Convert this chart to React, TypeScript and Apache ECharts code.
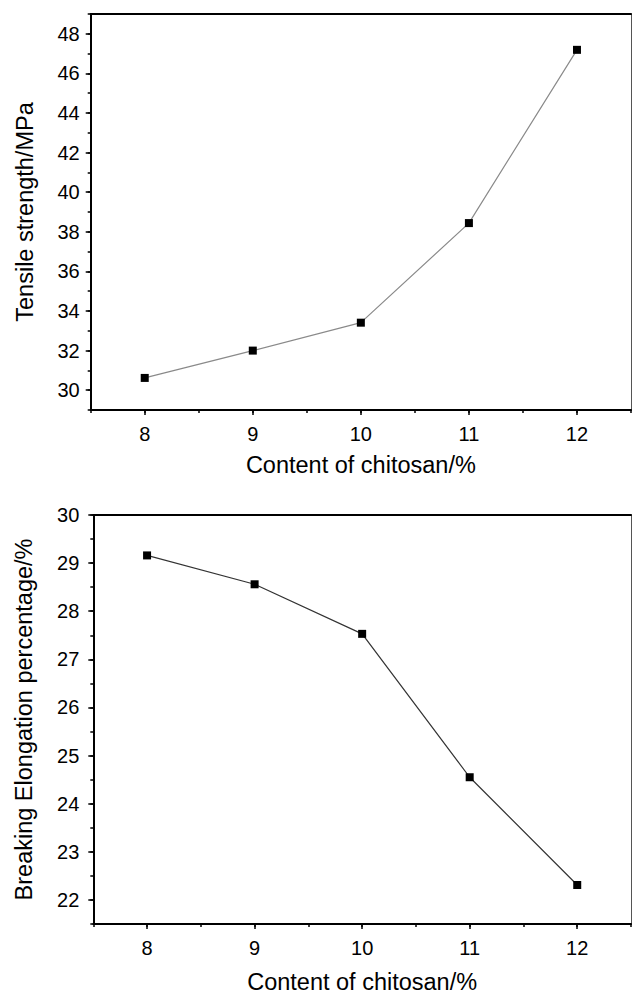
import React, { useEffect, useRef } from "react";
import * as echarts from "echarts";

// ---- data ----
const chitosanContent = [8, 9, 10, 11, 12];
const tensileStrength = [30.62, 32.0, 33.41, 38.44, 47.19];
const breakingElongation = [29.16, 28.56, 27.53, 24.55, 22.31];
const xMajorTicks = [8, 9, 10, 11, 12];
const tensileMajorTicks = [30, 32, 34, 36, 38, 40, 42, 44, 46, 48];
const elongationMajorTicks = [22, 23, 24, 25, 26, 27, 28, 29, 30];

const FONT = "Liberation Sans, Arial, Helvetica, sans-serif";

function App() {
  const ref = useRef<HTMLDivElement>(null);
  useEffect(() => {
    if (!ref.current) return;
    const chart = echarts.init(ref.current, null, { renderer: "svg" });

    const tickLabel = { fontSize: 20, color: "#000", fontFamily: FONT };
    const nameStyle = { fontSize: 23.5, color: "#000", fontFamily: FONT };
    const axisLineBold = { show: true, lineStyle: { color: "#000", width: 2 } };

    const mainX = (gridIndex: number, nameGap: number) => ({
      type: "value",
      gridIndex,
      position: "bottom",
      min: 7.5,
      max: 12.5,
      interval: 0.5,
      axisLine: axisLineBold,
      axisTick: { show: true, length: 3, lineStyle: { color: "#000", width: 1.5 } },
      axisLabel: {
        ...tickLabel,
        margin: 14,
        formatter: (v: number) => (xMajorTicks.includes(v) ? String(v) : ""),
      },
      splitLine: { show: false },
      name: "Content of chitosan/%",
      nameLocation: "middle",
      nameGap,
      nameTextStyle: nameStyle,
    });
    const majorX = (gridIndex: number) => ({
      type: "value",
      gridIndex,
      position: "bottom",
      min: 7.5,
      max: 12.5,
      interval: 0.5,
      axisLine: { show: false },
      axisTick: { show: true, length: 5, customValues: xMajorTicks, lineStyle: { color: "#000", width: 1.5 } },
      axisLabel: { show: false },
      splitLine: { show: false },
    });
    const topX = (gridIndex: number) => ({
      type: "value",
      gridIndex,
      position: "top",
      min: 7.5,
      max: 12.5,
      interval: 0.5,
      axisLine: axisLineBold,
      axisTick: { show: false },
      axisLabel: { show: false },
      splitLine: { show: false },
    });

    const mainY = (
      gridIndex: number,
      min: number,
      max: number,
      interval: number,
      majors: number[],
      name: string,
      nameGap: number,
      margin: number
    ) => ({
      type: "value",
      gridIndex,
      position: "left",
      min,
      max,
      interval,
      axisLine: axisLineBold,
      axisTick: { show: true, length: 3, lineStyle: { color: "#000", width: 1.5 } },
      axisLabel: {
        ...tickLabel,
        margin,
        formatter: (v: number) => (majors.includes(v) ? String(v) : ""),
      },
      splitLine: { show: false },
      name,
      nameLocation: "middle",
      nameGap,
      nameTextStyle: nameStyle,
    });
    const majorY = (gridIndex: number, min: number, max: number, interval: number, majors: number[]) => ({
      type: "value",
      gridIndex,
      position: "left",
      min,
      max,
      interval,
      axisLine: { show: false },
      axisTick: { show: true, length: 5, customValues: majors, lineStyle: { color: "#000", width: 1.5 } },
      axisLabel: { show: false },
      splitLine: { show: false },
    });
    const rightY = (gridIndex: number, min: number, max: number, interval: number) => ({
      type: "value",
      gridIndex,
      position: "right",
      min,
      max,
      interval,
      axisLine: { show: true, lineStyle: { color: "#555", width: 1 } },
      axisTick: { show: false },
      axisLabel: { show: false },
      splitLine: { show: false },
    });

    chart.setOption({
      animation: false,
      backgroundColor: "#fff",
      textStyle: { fontFamily: FONT },
      grid: [
        { left: 90.7, top: 14, width: 542, height: 396 },
        { left: 93.3, top: 515, width: 545, height: 412.3 },
      ],
      xAxis: [mainX(0, 43), majorX(0), topX(0), mainX(1, 46), majorX(1), topX(1)],
      yAxis: [
        mainY(0, 29, 49, 1, tensileMajorTicks, "Tensile strength/MPa", 54, 11),
        majorY(0, 29, 49, 1, tensileMajorTicks),
        rightY(0, 29, 49, 1),
        mainY(1, 21.5, 30, 0.5, elongationMajorTicks, "Breaking Elongation percentage/%", 57, 14),
        majorY(1, 21.5, 30, 0.5, elongationMajorTicks),
        rightY(1, 21.5, 30, 0.5),
      ],
      series: [
        {
          type: "line",
          xAxisIndex: 0,
          yAxisIndex: 0,
          data: chitosanContent.map((x, i) => [x, tensileStrength[i]]),
          symbol: "rect",
          symbolSize: 8,
          itemStyle: { color: "#000" },
          lineStyle: { color: "#8a8a8a", width: 1.2 },
        },
        {
          type: "line",
          xAxisIndex: 3,
          yAxisIndex: 3,
          data: chitosanContent.map((x, i) => [x, breakingElongation[i]]),
          symbol: "rect",
          symbolSize: 8,
          itemStyle: { color: "#000" },
          lineStyle: { color: "#333", width: 1.2 },
        },
      ],
    });
    return () => chart.dispose();
  }, []);

  return (
    <div
      ref={ref}
      style={{ position: "absolute", left: 0, top: 0, width: 634, height: 995, background: "#fff" }}
    />
  );
}

export default App;
